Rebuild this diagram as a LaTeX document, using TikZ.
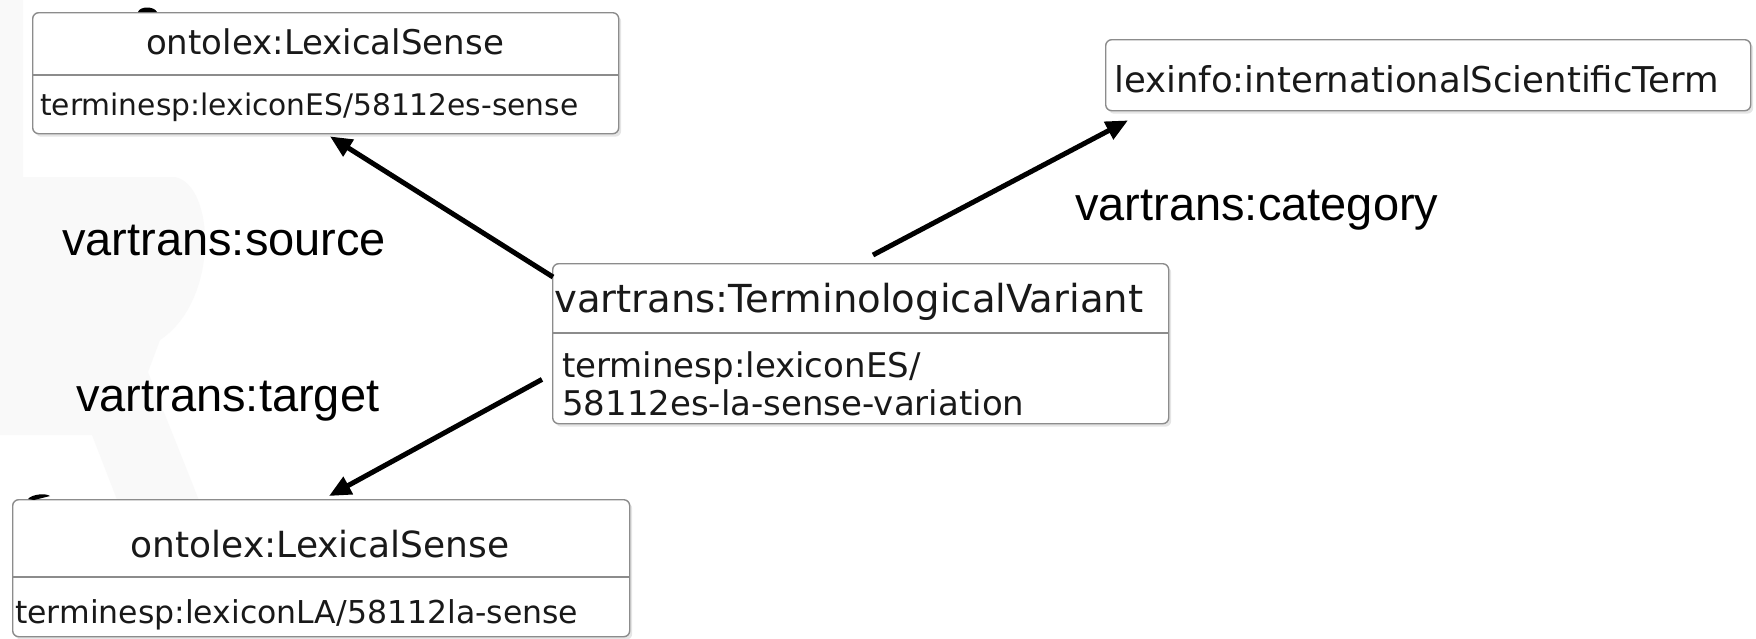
\documentclass[tikz,border=0pt]{standalone}
\usepackage{fontspec}
\newfontfamily\umlfont{DejaVu Sans}
\newfontfamily\labelfont{Liberation Sans}
\usetikzlibrary{arrows.meta,calc,shadows}
\definecolor{boxgray}{HTML}{8C8C8C}
\definecolor{faint}{HTML}{F9F9F9}
\begin{document}
\begin{tikzpicture}[x=1pt,y=-1pt,
  umlbox/.style={draw=boxgray, line width=1.4pt, rounded corners=6pt, fill=white,
    inner sep=0pt, anchor=north west,
    drop shadow={shadow xshift=2.5pt, shadow yshift=-3pt, opacity=0.2}},
  divider/.style={draw=boxgray, line width=1.6pt},
  umltext/.style={font=\umlfont\fontsize{#1}{#1}\selectfont, inner sep=0pt, text=black!90},
  elabel/.style={font=\labelfont\fontsize{47}{50}\selectfont, inner sep=0pt, anchor=base west},
  link/.style={line width=5pt, -{Triangle[length=22pt,width=19pt]}},
  smear/.style={fill=black}
]
\useasboundingbox (0,0) rectangle (1756,638);
\fill[white] (0,0) rectangle (1756,638);

% faint letter shape in the background
\fill[faint] (0,0) -- (23,0) -- (23,177) -- (175,177)
  .. controls (215,185) and (220,300) .. (160,340)
  -- (148,372) -- (210,528) -- (128,528) -- (92,435) -- (0,435) -- cycle;

% class boxes
\node[umlbox, minimum width=586pt, minimum height=121pt] (b1) at (32,12) {};
\node[umlbox, minimum width=617pt, minimum height=137pt] (b2) at (12,499) {};
\node[umlbox, minimum width=616pt, minimum height=160pt] (b3) at (552,263) {};
\node[umlbox, minimum width=645pt, minimum height=71pt]  (b4) at (1105,39) {};

% compartment dividers
\draw[divider] (b1.west |- 0,75)  -- (b1.east |- 0,75);
\draw[divider] (b2.west |- 0,577) -- (b2.east |- 0,577);
\draw[divider] (b3.west |- 0,333) -- (b3.east |- 0,333);

% box contents
\node[umltext=34, anchor=base] (t1) at (325,54) {ontolex:LexicalSense};
\node[umltext=29.7, anchor=base west] (s1) at (40,115) {terminesp:lexiconES/58112es-sense};

\node[umltext=36, anchor=base] (t2) at (320,557) {ontolex:LexicalSense};
\node[umltext=31.5, anchor=base west] (s2) at (15,623) {terminesp:lexiconLA/58112la-sense};

\node[umltext=38.6, anchor=base west] (t3) at (554,312) {vartrans:TerminologicalVariant};
\node[umltext=34, anchor=base west] (s3a) at (562,377) {terminesp:lexiconES/};
\node[umltext=34, anchor=base west] (s3b) at (562,415) {58112es-la-sense-variation};

\node[umltext=35.5, anchor=base west] (t4) at (1114,92) {lexinfo:internationalScientificTerm};

% small marks on the box tops
\fill[smear] (138,12) .. controls (140,6) and (154,6) .. (157,12) -- cycle;
\fill[smear] (28,499) .. controls (32,494) and (46,493) .. (50,496) -- (34,500) -- cycle;

% relations
\draw[link] ($(b3.north west)+(1,14)$)   -- ($(b1.south west)+(298,2)$);
\draw[link] ($(b3.north west)+(321,-8)$) -- ($(b4.south west)+(23,9)$);
\draw[link] ($(b3.south west)+(-10,-45)$) -- ($(b2.north west)+(317,-3)$);

% relation names
\node[elabel] (lsrc) at (62,255) {vartrans:source};
\node[elabel] (ltgt) at (76,411) {vartrans:target};
\node[elabel] (lcat) at (1075,220) {vartrans:category};
\end{tikzpicture}
\end{document}
